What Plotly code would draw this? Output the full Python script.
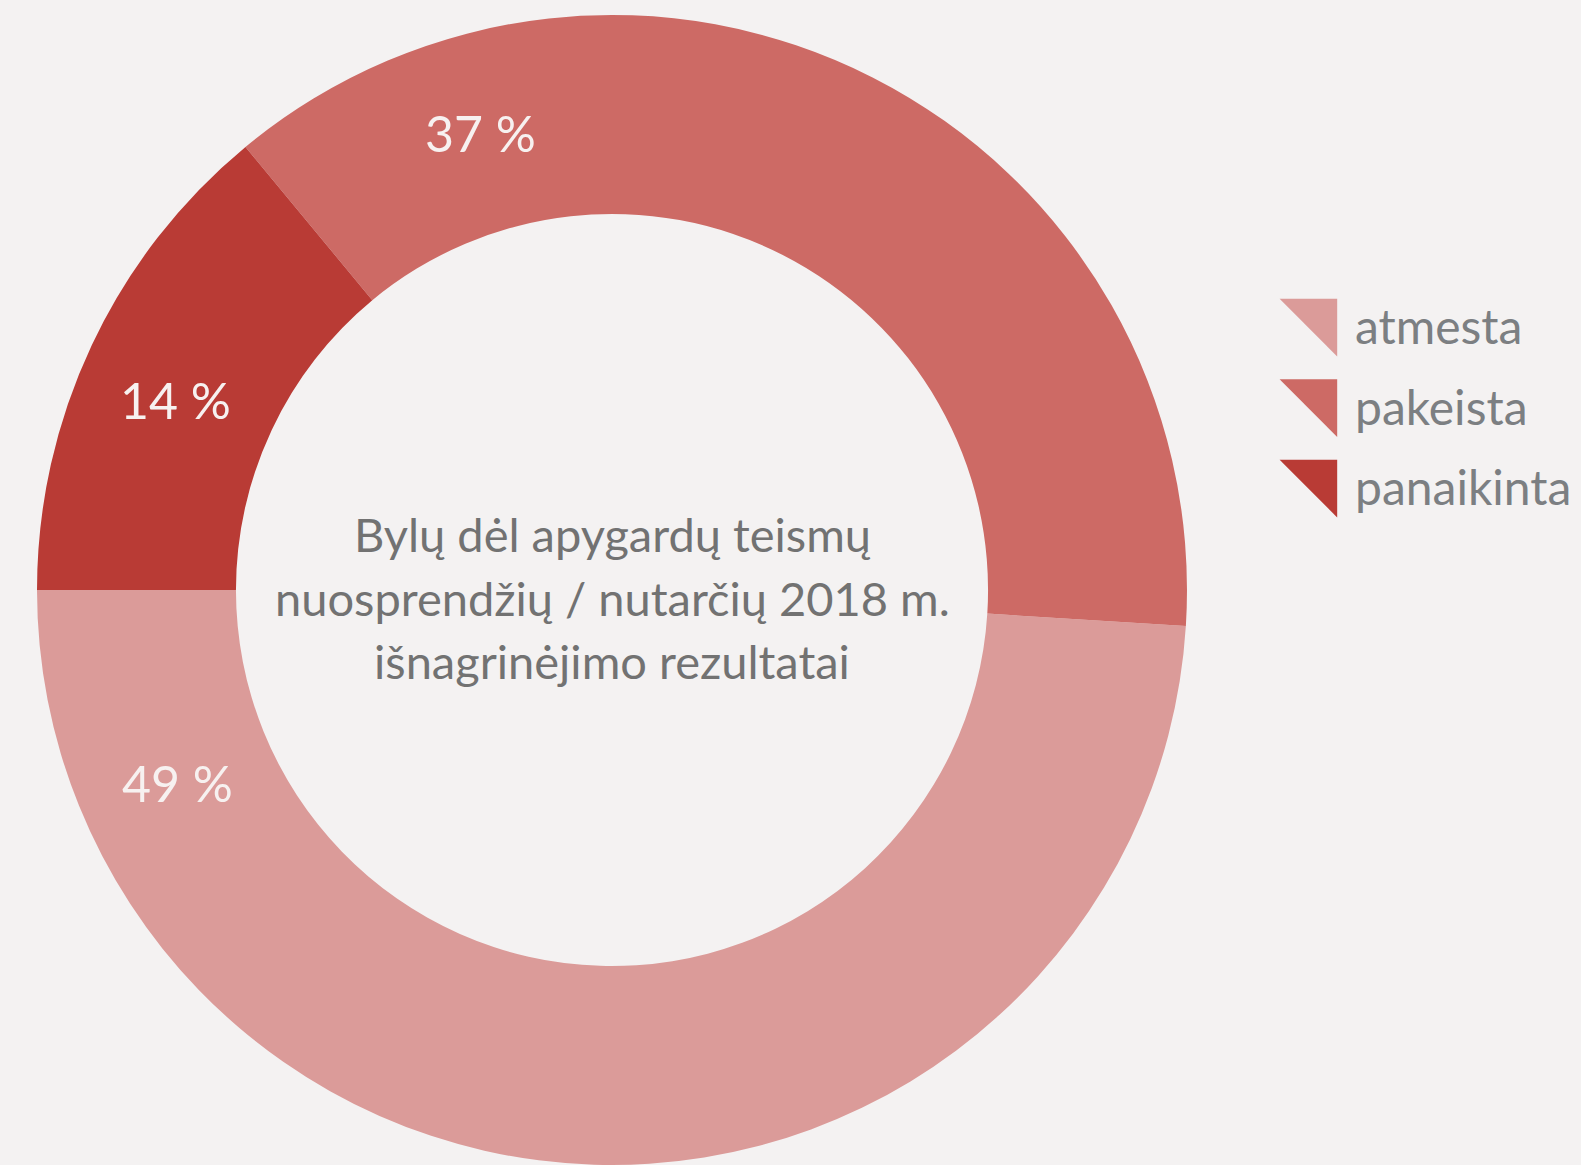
import math
import plotly.graph_objects as go

# data
categories = ["atmesta", "pakeista", "panaikinta"]
shares = [49, 37, 14]
colors = ["#db9b99", "#cd6a65", "#b93b35"]
center_lines = ["Bylų dėl apygardų teismų",
                "nuosprendžių / nutarčių 2018 m.",
                "išnagrinėjimo rezultatai"]

W, H = 1581, 1165
BG = "#f4f2f2"

# donut geometry (pixels)
cx, cy, R, hole = 612, 590, 575, 0.654
dom_x = [(cx - R) / W, (cx + R) / W]
dom_y = [0, 2 * R / H]

total = sum(shares)
# first slice (atmesta) should end at 9 o'clock going counterclockwise
rot = 270 - shares[0] / total * 360

fig = go.Figure()

fig.add_trace(go.Pie(
    labels=categories, values=shares, sort=False,
    direction="counterclockwise", rotation=rot, hole=hole,
    marker=dict(colors=colors, line=dict(width=0)),
    textinfo="none", hoverinfo="label+percent", showlegend=False,
    domain=dict(x=dom_x, y=dom_y),
))

# percentage labels, ~24 deg in from the slice edge nearest 9 o'clock
cum = 0
r_lab = R * (1 + hole) / 2
for v in shares:
    a0 = 180 + cum / total * 360
    a1 = 180 + (cum + v) / total * 360
    cum += v
    if math.cos(math.radians(a0)) <= math.cos(math.radians(a1)):
        ang = a0 + 24
    else:
        ang = a1 - 23.5
    px = cx + r_lab * math.cos(math.radians(ang))
    py = cy - r_lab * math.sin(math.radians(ang))
    fig.add_annotation(x=px / W, y=1 - py / H, xref="paper", yref="paper",
                       xanchor="center", yanchor="middle",
                       text=f"{v} %", showarrow=False,
                       font=dict(family="Lato", size=50, color="#f7f1f0"))

# centre text
for i, line in enumerate(center_lines):
    fig.add_annotation(x=cx / W, y=1 - (534 + i * 63.5) / H, xref="paper", yref="paper",
                       xanchor="center", yanchor="middle",
                       text=line, showarrow=False,
                       font=dict(family="Lato", size=47, color="#727272"))

# legend drawn as a scatter in pixel space
ly = [318 + i * 80.5 for i in range(len(categories))]
fig.add_trace(go.Scatter(
    x=[1318] * len(categories), y=ly, mode="markers",
    marker=dict(symbol="triangle-ne", size=64, color=colors, line=dict(width=0)),
    showlegend=False, hoverinfo="skip", xaxis="x2", yaxis="y2",
))
fig.add_trace(go.Scatter(
    x=[1355] * len(categories), y=[v + 14 for v in ly], mode="text",
    text=categories, textposition="middle right",
    textfont=dict(family="Lato", size=48, color="#7c7f82"),
    showlegend=False, hoverinfo="skip", xaxis="x2", yaxis="y2",
))

fig.update_layout(
    width=W, height=H,
    paper_bgcolor=BG, plot_bgcolor="rgba(0,0,0,0)",
    margin=dict(l=0, r=0, t=0, b=0),
    xaxis2=dict(range=[0, W], domain=[0, 1], visible=False, fixedrange=True),
    yaxis2=dict(range=[H, 0], domain=[0, 1], visible=False, fixedrange=True, anchor="x2"),
)

fig.write_html("out.html", config={"displayModeBar": False},
               post_script="document.body.style.margin='0';document.body.style.overflow='hidden';")
